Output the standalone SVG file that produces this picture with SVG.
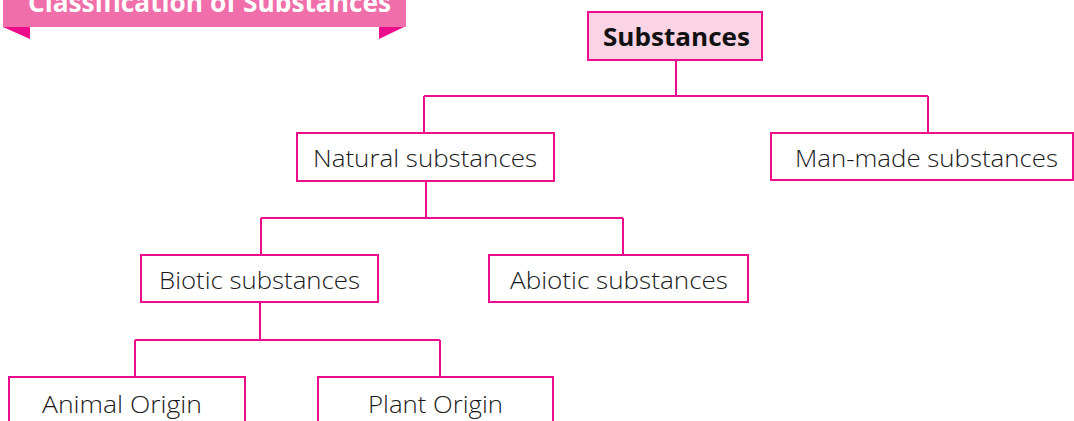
<svg xmlns="http://www.w3.org/2000/svg" width="1074" height="421" viewBox="0 0 1074 421">
<style>
.box{fill:none;stroke:#EC0C8C;stroke-width:2}
.lbl{font-family:"Open Sans","Liberation Sans",sans-serif;font-weight:300;font-size:24px;fill:#1a1a1a}
.conn{fill:none;stroke:#EC0C8C;stroke-width:2}
</style>
<rect width="1074" height="421" fill="#ffffff"/>
<g id="banner">
<rect x="3" y="0" width="403" height="27" fill="#F06EA9"/>
<polygon points="3,27 30,27 30,39" fill="#EC0C8C"/>
<polygon points="379,27 404,27 379,39" fill="#EC0C8C"/>
<text x="28" y="12" textLength="363" lengthAdjust="spacingAndGlyphs" font-family="'Open Sans','Liberation Sans',sans-serif" font-weight="700" font-size="26" fill="#ffffff">Classification of Substances</text>
</g>
<g id="connectors">
<path class="conn" d="M676,60 V96 M424,96 H928 M424,96 V133 M928,96 V133"/>
<path class="conn" d="M426,181 V218 M261,218 H623 M261,218 V255 M623,218 V255"/>
<path class="conn" d="M260,302 V340 M135,340 H440 M135,340 V377 M440,340 V377"/>
</g>
<g id="substances">
<rect x="588" y="12" width="174" height="48" fill="#FAD3E4" stroke="#EC0C8C" stroke-width="2"/>
<text x="603" y="45.5" textLength="147" lengthAdjust="spacingAndGlyphs" font-family="'Open Sans','Liberation Sans',sans-serif" font-weight="700" font-size="25" fill="#111">Substances</text>
</g>
<g id="natural">
<rect class="box" x="297" y="133" width="257" height="48"/>
<text class="lbl" x="313" y="167" textLength="224" lengthAdjust="spacingAndGlyphs">Natural substances</text>
</g>
<g id="manmade">
<rect class="box" x="771" y="133" width="302" height="47"/>
<text class="lbl" x="795" y="167" textLength="263" lengthAdjust="spacingAndGlyphs">Man-made substances</text>
</g>
<g id="biotic">
<rect class="box" x="141" y="255" width="237" height="47"/>
<text class="lbl" x="159" y="289" textLength="201" lengthAdjust="spacingAndGlyphs">Biotic substances</text>
</g>
<g id="abiotic">
<rect class="box" x="489" y="255" width="259" height="47"/>
<text class="lbl" x="510" y="289" textLength="218" lengthAdjust="spacingAndGlyphs">Abiotic substances</text>
</g>
<g id="animal">
<rect class="box" x="9" y="377" width="236" height="50"/>
<text class="lbl" x="42" y="413" textLength="160" lengthAdjust="spacingAndGlyphs">Animal Origin</text>
</g>
<g id="plant">
<rect class="box" x="318" y="377" width="235" height="50"/>
<text class="lbl" x="368" y="413" textLength="135" lengthAdjust="spacingAndGlyphs">Plant Origin</text>
</g>
</svg>
